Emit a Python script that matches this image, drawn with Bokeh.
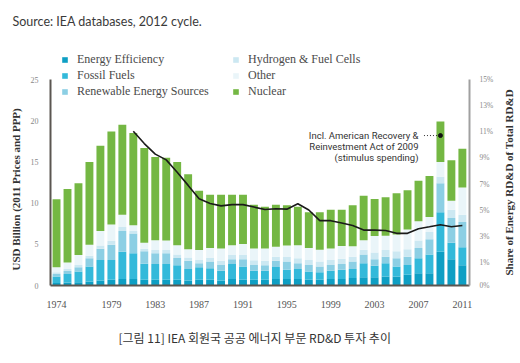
import math
from bokeh.plotting import figure
from bokeh.models import (Range1d, LinearAxis, FixedTicker, CustomJSTickFormatter,
                          Label, Legend, LegendItem, ColumnDataSource, Title)
from bokeh.embed import file_html
from bokeh.resources import INLINE

# ---------------- data ----------------
years = list(range(1974, 2012))
energy_efficiency = [0.3, 0.35, 0.4, 0.5, 0.6, 0.7, 0.8, 0.8, 0.7, 0.7,
                     0.7, 0.7, 0.6, 0.7, 0.7, 0.6, 0.8, 0.7, 0.7, 0.7,
                     0.8, 0.8, 0.8, 0.7, 0.7, 0.8, 0.8, 0.9, 1.0, 1.0,
                     1.1, 1.1, 1.3, 1.5, 1.5, 4.1, 3.2, 2.45]
fossil_fuels = [0.8, 1.05, 1.3, 1.8, 2.5, 2.4, 3.3, 3.1, 1.95, 1.9,
                1.9, 1.75, 1.4, 1.5, 1.4, 1.2, 1.8, 1.6, 1.1, 1.1,
                1.45, 1.1, 1.2, 1.0, 0.9, 1.0, 1.1, 1.1, 1.7, 1.4,
                1.6, 1.2, 1.2, 1.8, 2.25, 4.8, 2.0, 2.2]
renewables = [0.3, 0.35, 0.5, 1.0, 1.35, 1.85, 2.5, 2.4, 1.5, 1.3,
              1.3, 0.9, 1.0, 0.5, 0.8, 0.7, 0.6, 0.9, 0.7, 0.65,
              0.75, 1.0, 0.7, 0.8, 0.7, 0.7, 0.7, 0.9, 1.05, 0.8,
              0.8, 1.0, 1.0, 1.25, 1.85, 3.5, 3.0, 3.05]
hydrogen = [0.2, 0.25, 0.3, 0.3, 0.4, 0.45, 0.5, 0.3, 0.3, 0.4,
            0.4, 0.4, 0.4, 0.4, 0.45, 0.5, 0.5, 0.5, 0.55, 0.55,
            0.5, 0.55, 0.6, 0.6, 0.6, 0.6, 0.65, 0.6, 0.6, 0.8,
            0.8, 0.85, 0.9, 0.9, 0.9, 0.8, 1.0, 0.9]
other = [0.63, 0.8, 1.2, 1.35, 1.75, 2.0, 1.5, 0.7, 0.75, 1.2,
         1.15, 1.15, 1.0, 1.2, 1.2, 1.5, 1.2, 1.35, 1.45, 1.5,
         1.2, 1.4, 1.6, 1.45, 1.45, 1.4, 1.55, 1.25, 1.15, 2.0,
         1.75, 2.05, 2.4, 2.35, 1.8, 1.8, 1.1, 3.3]
nuclear = [8.25, 8.9, 8.7, 10.05, 10.35, 11.3, 10.9, 11.2, 11.5, 10.1,
           10.05, 10.1, 9.1, 7.2, 6.45, 6.5, 6.1, 5.95, 5.3, 5.05,
           5.1, 4.9, 4.65, 4.35, 4.55, 4.7, 4.4, 5.0, 5.4, 4.5,
           4.65, 5.0, 4.75, 4.9, 5.0, 4.9, 4.9, 4.7]

share_years = list(range(1981, 2012))
share_pct = [11.04, 10.1, 9.29, 8.85, 7.91, 6.9, 5.87, 5.52, 5.33, 5.43,
             5.43, 5.24, 5.05, 5.11, 5.08, 5.49, 5.02, 4.2, 4.2, 4.02,
             3.83, 3.48, 3.48, 3.45, 3.23, 3.23, 3.58, 3.73, 3.89, 3.73, 3.83]

series_names = ["Energy Efficiency", "Fossil Fuels", "Renewable Energy Sources",
                "Hydrogen & Fuel Cells", "Other", "Nuclear"]
series_keys = ["ee", "ff", "re", "h2", "oth", "nuc"]
colors = ["#0e9fc4", "#33b9da", "#8ccfe4", "#cce8f2", "#eaf5f9", "#74b743"]

x_ticks = [1974, 1979, 1983, 1987, 1991, 1995, 1999, 2003, 2007, 2011]
y_ticks = [0, 5, 10, 15, 20, 25]
pct_ticks = [-0.76, 1, 3, 5, 7, 9, 11, 13, 15]

note_year = 2009
note_level = 18.2
note_lines = ["Incl. American Recovery &", "Reinvestment Act of 2009", "(stimulus spending)"]

title_text = "Source: IEA databases, 2012 cycle."
caption_text = "[그림 11] IEA 회원국 공공 에너지 부문 RD&D 투자 추이"
left_label = "USD Billion  (2011 Prices and PPP)"
right_label = "Share of Energy RD&D of Total RD&D"
right_label_from = 0.0   # where the right title starts on the % scale

# ---------------- figure ----------------
source = ColumnDataSource(dict(year=years, ee=energy_efficiency, ff=fossil_fuels,
                               re=renewables, h2=hydrogen, oth=other, nuc=nuclear))

serif = "Liberation Serif"

p = figure(frame_width=419, frame_height=255, output_backend="svg", toolbar_location=None,
           x_range=Range1d(1973.45, 2011.65), y_range=Range1d(0, 30.95),
           min_border_left=50, min_border_right=51, min_border_top=30, min_border_bottom=78)
p.extra_y_ranges = {"pct": Range1d(-0.76, 18.75)}
p.outline_line_color = None
p.xgrid.visible = False
p.ygrid.visible = False
p.background_fill_color = "white"
p.border_fill_color = "white"

p.title.text = title_text
p.title.align = "left"
p.title.offset = -38
p.title.standoff = 4
p.title.text_font = "Lato"
p.title.text_font_size = "12.5px"
p.title.text_font_style = "normal"
p.title.text_color = "#3a3a3a"

renderers = p.vbar_stack(series_keys, x="year", width=0.72, color=colors,
                         line_color=None, source=source)

p.line(share_years, share_pct, y_range_name="pct", line_color="#1a1a1a", line_width=1.6)

# annotation
p.segment(x0=[note_year - 1.5], y0=[note_level], x1=[note_year - 0.25], y1=[note_level],
          line_color="#333333", line_width=1, line_dash="1 2")
p.scatter([note_year], [note_level], size=4, color="#111111")
for i, t in enumerate(note_lines):
    p.add_layout(Label(x=note_year - 2.0, y=note_level - 1.34 * i, text=t,
                       text_align="right", text_baseline="middle",
                       text_font="Roboto", text_font_size="9.5px",
                       text_color="#333333"))

# axes
ax = p.xaxis[0]
ax.ticker = FixedTicker(ticks=x_ticks)
ax.axis_line_color = "#5b5651"
ax.axis_line_width = 2
ax.major_tick_line_color = None
ax.minor_tick_line_color = None
ax.major_label_text_font = serif
ax.major_label_text_font_size = "10px"
ax.major_label_text_color = "#555555"
ax.major_label_standoff = 9

ay = p.yaxis[0]
ay.ticker = FixedTicker(ticks=y_ticks)
ay.bounds = (0, 25)
ay.axis_line_color = "#5b5651"
ay.axis_line_width = 2
ay.major_tick_line_color = None
ay.minor_tick_line_color = None
ay.major_label_text_font = serif
ay.major_label_text_font_size = "8px"
ay.major_label_text_color = "#888888"
ay.major_label_standoff = 6

ar = LinearAxis(y_range_name="pct")
ar.ticker = FixedTicker(ticks=pct_ticks)
ar.bounds = (-0.76, 15)
ar.formatter = CustomJSTickFormatter(code="return tick < 0 ? '0%' : tick.toFixed(0) + '%';")
ar.axis_line_color = "#a0a0a0"
ar.axis_line_width = 2
ar.major_tick_line_color = None
ar.minor_tick_line_color = None
ar.major_label_text_font = serif
ar.major_label_text_font_size = "7.5px"
ar.major_label_text_color = "#888888"
ar.major_label_standoff = 4
p.add_layout(ar, "right")

# right-hand title, written upwards like the reference
rt = LinearAxis(y_range_name="pct")
rt.ticker = FixedTicker(ticks=[right_label_from])
rt.formatter = CustomJSTickFormatter(args=dict(t=right_label), code="return t;")
rt.major_label_orientation = math.pi / 2
rt.axis_line_color = None
rt.major_tick_line_color = None
rt.minor_tick_line_color = None
rt.major_label_standoff = 7
rt.major_label_text_font = serif
rt.major_label_text_font_size = "11px"
rt.major_label_text_font_style = "bold"
rt.major_label_text_color = "#333333"
p.add_layout(rt, "right")

# left-hand title
p.add_layout(Title(text=left_label, align="left", offset=15, standoff=10,
                   vertical_align="middle",
                   text_font=serif, text_font_size="11px", text_font_style="bold",
                   text_color="#333333"), "left")

# legends
def make_legend(idx, loc):
    items = [LegendItem(label=series_names[i], renderers=[renderers[i]]) for i in idx]
    lg = Legend(items=items, location=loc, orientation="vertical",
                glyph_width=7, glyph_height=7, label_height=14, spacing=1,
                label_standoff=9, padding=0, margin=0,
                border_line_color=None, background_fill_alpha=0,
                label_text_font=serif, label_text_font_size="12px",
                label_text_color="#4a4a4a")
    p.add_layout(lg, "center")

make_legend([0, 1, 2], (11, 186))
make_legend([3, 4, 5], (182, 186))

# caption under the chart
p.add_layout(Title(text=caption_text, align="left", offset=68, standoff=32,
                   text_font="Noto Sans CJK KR", text_font_size="12px",
                   text_font_style="normal", text_color="#333333"), "below")

open("out.html", "w").write(file_html(p, INLINE))
